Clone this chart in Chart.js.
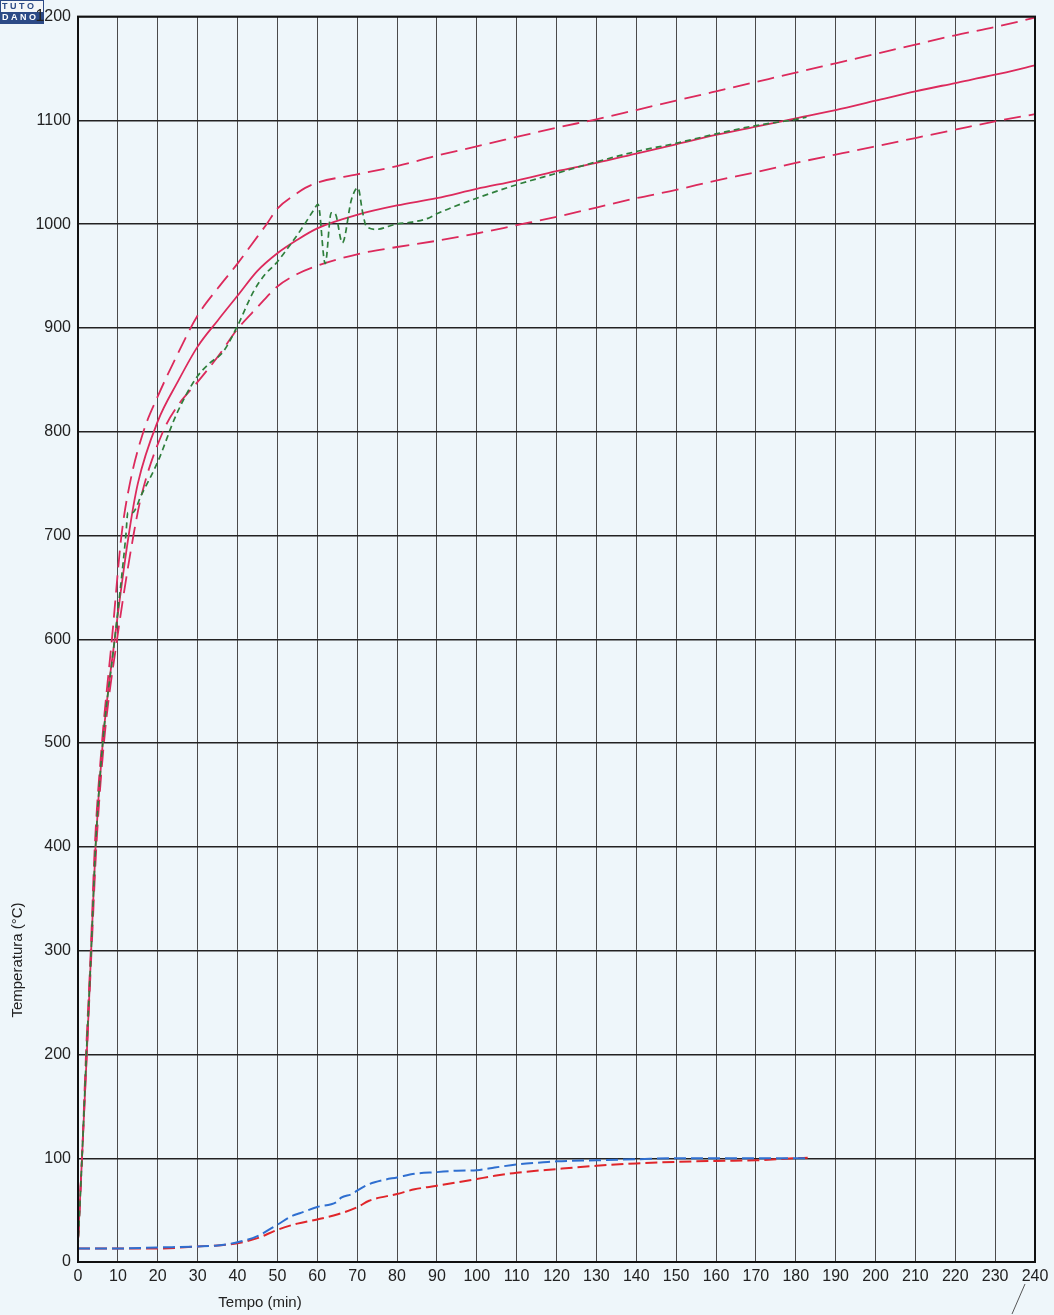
<!DOCTYPE html>
<html>
<head>
<meta charset="utf-8">
<script src="https://cdn.jsdelivr.net/npm/chart.js@4/dist/chart.umd.min.js"></script>
<style>
  html, body { margin: 0; padding: 0; background: #eef6fa; }
  #wrap { width: 1054px; height: 1315px; }
</style>
</head>
<body>
<div id="wrap"><canvas id="chart" width="1054" height="1315"></canvas></div>
<script>
// curva standard (linea continua)
const timeIso = [0, 1, 2.2, 3.3, 4.4, 6.2, 9.2, 12.7, 15, 20, 25, 30, 35, 40, 45, 50, 55, 60, 70, 80, 90, 100, 110, 120, 130, 140, 150, 160, 170, 180, 190, 200, 210, 220, 230, 240];
const tempIso = [20, 100, 200, 300, 400, 500, 600, 700, 750, 810, 848, 882, 907, 931, 955, 972, 985, 996, 1009, 1018, 1025, 1034, 1042, 1051, 1059, 1068, 1077, 1086, 1094, 1102, 1110, 1119, 1128, 1136, 1144, 1153];

// tolleranze superiore / inferiore
const timeUpper = [0, 1, 2, 3.2, 4.2, 6, 8.5, 10.9, 13, 16.4, 20, 25, 30, 35, 40, 45, 47.3, 50, 55, 57, 60, 70, 80, 90, 100, 110, 120, 130, 140, 150, 160, 170, 180, 190, 200, 210, 220, 230, 240];
const tempUpper = [20, 100, 200, 300, 400, 500, 600, 700, 750, 800, 834, 875, 912, 938, 962, 988, 1000, 1015, 1030, 1035, 1040, 1048, 1056, 1066, 1075, 1084, 1093, 1101, 1110, 1119, 1128, 1137, 1146, 1155, 1164, 1173, 1182, 1190, 1199];

const timeLower = [0, 1, 2.2, 3.4, 4.6, 6.5, 9.8, 13.9, 16, 21.3, 25, 30, 35, 40, 45, 50, 55, 60, 70, 80, 90, 100, 110, 120, 130, 140, 150, 160, 170, 180, 190, 200, 210, 220, 230, 240];
const tempLower = [20, 100, 200, 300, 400, 500, 600, 700, 740, 800, 825, 848, 872, 899, 920, 940, 952, 960, 971, 978, 984, 991, 999, 1007, 1016, 1025, 1033, 1042, 1050, 1059, 1067, 1075, 1083, 1091, 1099, 1106];

// temperatura forno (verde)
const timeFurnace = [0, 1, 2.1, 3.3, 4.4, 6.2, 9.2, 12, 12.5, 13.6, 16, 20, 24.6, 29.5, 33, 36.4, 40, 44, 47, 49.6, 53, 56.5, 59, 60.2, 62, 63.5, 64.5, 66.3, 68.6, 70.2, 71.4, 72.3, 74.8, 79.7, 83.8, 88, 90, 100, 110, 120, 130, 140, 150, 160, 170, 180, 182.7];
const tempFurnace = [15, 100, 200, 300, 400, 500, 600, 700, 722, 722, 740, 771, 816, 851, 866, 877, 902, 935, 952, 962, 979, 998, 1013, 1019, 962, 1011, 1010, 982, 1024, 1035, 1011, 998, 995, 1000, 1002, 1006, 1010, 1025, 1038, 1049, 1060, 1070, 1078, 1087, 1095, 1101, 1103];

// lato non esposto
const timeSide1 = [0, 10, 20, 30, 35, 40, 45, 50, 54, 55.6, 60, 65, 66, 68.7, 70, 73, 76.6, 80, 84.4, 90, 95, 100, 104.5, 110, 116.7, 120, 130, 140, 150, 160, 170, 180, 183];
const tempSide1 = [13, 13, 14, 15, 16, 19, 25, 36, 45, 47, 53, 58, 62, 65.5, 68.7, 75, 79, 81.5, 85, 86.6, 88, 88.5, 91, 94, 96, 97, 98, 99, 100, 100, 100, 100, 100];

const timeSide2 = [0, 10, 20, 30, 35, 40, 45, 50, 55, 60, 65.2, 70, 73, 80, 84.4, 90, 95, 100, 104.5, 110, 120, 130, 140, 150, 160, 170, 180, 183];
const tempSide2 = [13, 13, 13, 15, 16, 18, 23, 31, 37, 41, 46, 52.7, 59, 65.5, 70, 73.5, 76.7, 80, 83, 86, 89.5, 92.7, 95, 96.5, 97.4, 98, 100, 100.5];

const toPoints = (xs, ys) => xs.map((x, i) => ({ x: x, y: ys[i] }));

const PINK = '#dc2a5c';
const BG = '#eef6fa';
const FONT = '"Liberation Sans", Arial, sans-serif';

const sheet = {
  id: 'sheet',
  beforeDraw(chart) {
    const ctx = chart.ctx;
    ctx.save();
    ctx.fillStyle = BG;
    ctx.fillRect(0, 0, chart.width, chart.height);

    // logo (tagliato a sinistra), sotto l'etichetta 1200
    ctx.fillStyle = '#f4f6f8';
    ctx.fillRect(0, 0, 44, 12);
    ctx.fillStyle = '#2c4a86';
    ctx.fillRect(0, 12, 44, 12);
    ctx.strokeStyle = '#2c4a86';
    ctx.lineWidth = 1;
    ctx.strokeRect(0.5, 0.5, 43, 23);
    ctx.font = 'bold 9px ' + FONT;
    ctx.textBaseline = 'middle';
    ctx.textAlign = 'left';
    ctx.fillStyle = '#2c4a86';
    ctx.fillText('T U T O', 2, 7);
    ctx.fillStyle = '#ffffff';
    ctx.fillText('D A N O', 2, 18);
    ctx.restore();
  },
  afterDraw(chart) {
    const ctx = chart.ctx;
    const a = chart.chartArea;
    ctx.save();
    // cornice
    ctx.strokeStyle = '#111';
    ctx.lineWidth = 2;
    ctx.strokeRect(a.left, a.top, a.right - a.left, a.bottom - a.top);

    // titoli assi
    ctx.fillStyle = '#222';
    ctx.font = '15px ' + FONT;
    ctx.textAlign = 'center';
    ctx.textBaseline = 'middle';
    ctx.fillText('Tempo (min)', 260, 1303);
    ctx.translate(18, 960);
    ctx.rotate(-Math.PI / 2);
    ctx.fillText('Temperatura (°C)', 0, 0);
    ctx.restore();

    // segno a penna
    ctx.save();
    ctx.strokeStyle = '#555';
    ctx.lineWidth = 1;
    ctx.beginPath();
    ctx.moveTo(1025, 1284);
    ctx.lineTo(1012, 1314);
    ctx.stroke();
    ctx.restore();
  }
};

const line = (label, xs, ys, color, width, dash) => ({
  label: label,
  data: toPoints(xs, ys),
  borderColor: color,
  borderWidth: width,
  borderDash: dash,
  pointRadius: 0,
  fill: false,
  cubicInterpolationMode: 'monotone'
});

new Chart(document.getElementById('chart'), {
  type: 'line',
  data: {
    datasets: [
      line('Forno', timeFurnace, tempFurnace, '#2f7f3c', 1.7, [6, 4]),
      line('Lato 1', timeSide1, tempSide1, '#2f6fd0', 2, [12, 5]),
      line('Lato 2', timeSide2, tempSide2, '#e0262a', 2, [12, 5]),
      line('Curva standard', timeIso, tempIso, PINK, 1.8, []),
      line('Tolleranza sup.', timeUpper, tempUpper, PINK, 1.8, [17, 8]),
      line('Tolleranza inf.', timeLower, tempLower, PINK, 1.8, [17, 8])
    ]
  },
  options: {
    responsive: false,
    devicePixelRatio: 1,
    animation: false,
    layout: { padding: { top: 14, right: 19, left: 0, bottom: 0 } },
    plugins: {
      legend: { display: false },
      tooltip: { enabled: false }
    },
    scales: {
      x: {
        type: 'linear',
        min: 0,
        max: 240,
        ticks: { stepSize: 10, padding: 5, color: '#222', font: { family: FONT, size: 16 }, maxRotation: 0, callback: (v) => String(v) },
        grid: { color: '#4a4a4a', lineWidth: 1, drawTicks: false },
        border: { color: '#111', width: 2 },
        afterFit: (s) => { s.height = 53; }
      },
      y: {
        min: 0,
        max: 1200,
        ticks: { stepSize: 100, padding: 7, color: '#222', font: { family: FONT, size: 16 }, callback: (v) => String(v) },
        grid: { color: '#222', lineWidth: 1.4, drawTicks: false },
        border: { color: '#111', width: 2 },
        afterFit: (s) => { s.width = 78; }
      }
    }
  },
  plugins: [sheet]
});
</script>
</body>
</html>
